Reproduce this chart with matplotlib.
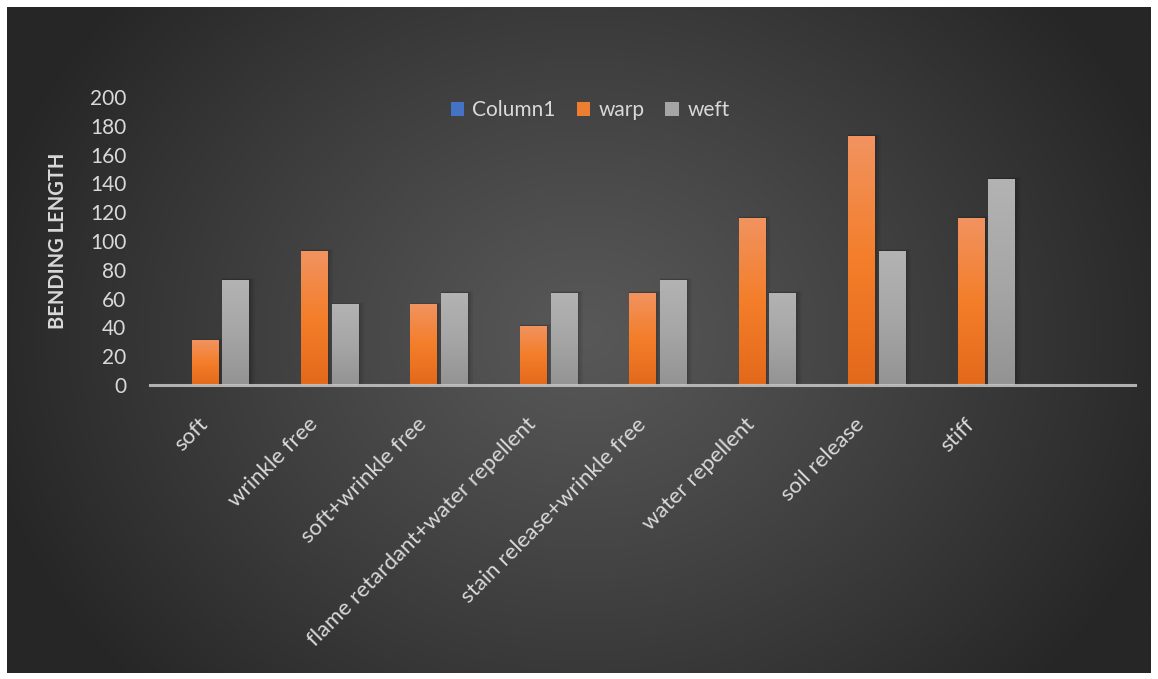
import numpy as np
import matplotlib
matplotlib.use("Agg")
import matplotlib.pyplot as plt
from matplotlib.patches import Patch
from matplotlib.colors import LinearSegmentedColormap

# ---- data -------------------------------------------------------------
categories = ["soft", "wrinkle free", "soft+wrinkle free",
              "flame retardant+water repellent", "stain release+wrinkle free",
              "water repellent", "soil release", "stiff", ""]
column1 = [0, 0, 0, 0, 0, 0, 0, 0, 0]
warp = [31, 93, 56, 41, 64, 116, 173, 116, 0]
weft = [73, 56, 64, 64, 73, 64, 93, 143, 0]
series_names = ["Column1", "warp", "weft"]
y_ticks = [0, 20, 40, 60, 80, 100, 120, 140, 160, 180, 200]

W, H = 1158, 679
plt.rcParams["font.family"] = ["Lato", "DejaVu Sans"]
text_col = "#d9d9d9"

fig = plt.figure(figsize=(W / 100, H / 100), dpi=100, facecolor="white")

# ---- radial gradient backdrop ----------------------------------------
bg_left, bg_right, bg_top, bg_bot = 7, 1151, 7, 673
bg = fig.add_axes([bg_left / W, 1 - bg_bot / H, (bg_right - bg_left) / W,
                   (bg_bot - bg_top) / H])
bg.set_axis_off()
nx, ny = 600, 350
xx, yy = np.meshgrid(np.linspace(bg_left, bg_right, nx),
                     np.linspace(bg_top, bg_bot, ny))
cx, cy = 585, 335
r = np.sqrt(((xx - cx) / 620) ** 2 + ((yy - cy) / 520) ** 2)
r = np.clip(r, 0, 1)
inner, outer = 0x58, 0x26
val = (inner + (outer - inner) * r ** 1.1) / 255.0
img = np.dstack([val, val, val])
bg.imshow(img, extent=[0, 1, 0, 1], aspect="auto", origin="upper")
bg.set_xlim(0, 1)
bg.set_ylim(0, 1)

# ---- plot area --------------------------------------------------------
x0, x1, ytop, ybase = 150, 1135, 97, 385
ax = fig.add_axes([x0 / W, 1 - ybase / H, (x1 - x0) / W, (ybase - ytop) / H])
ax.patch.set_alpha(0)
n = len(categories)
ax.set_xlim(-0.5, n - 0.5)
ax.set_ylim(0, 200)

bw = 0.24
offs = [-0.28, 0.0, 0.28]
orange_cmap = LinearSegmentedColormap.from_list(
    "org", ["#e3691a", "#f47e2a", "#f19360"])
gray_cmap = LinearSegmentedColormap.from_list(
    "gry", ["#939393", "#a6a6a6", "#b3b3b3"])
blue_cmap = LinearSegmentedColormap.from_list("blu", ["#3a66b5", "#4c7bd0"])
grad = np.linspace(0, 1, 256).reshape(-1, 1)

px = 1.0 / ((x1 - x0) / n)  # one pixel in x data units
py = 200.0 / (ybase - ytop)

for vals, off, cmap in zip([column1, warp, weft], offs,
                           [blue_cmap, orange_cmap, gray_cmap]):
    xs = np.arange(n) + off
    for xc, v in zip(xs, vals):
        if v <= 0:
            continue
        # soft drop shadow
        for k, a in [(6, 0.05), (4, 0.07), (2, 0.10)]:
            ax.bar(xc + k * px * 0.5, v + k * py * 0.3, width=bw + k * px,
                   bottom=0, color="black", alpha=a, linewidth=0, zorder=2)
        bar = ax.bar(xc, v, width=bw, color="none", linewidth=0, zorder=3)[0]
        im = ax.imshow(grad, cmap=cmap, origin="lower", aspect="auto",
                       extent=[xc - bw / 2, xc + bw / 2, 0, v], zorder=3)
        im.set_clip_path(bar)

ax.set_xlim(-0.5, n - 0.5)
ax.set_ylim(0, 200)

# baseline
ax.axhline(0, color="#c8c8c8", lw=2.2, alpha=0.85, zorder=4, clip_on=False)

for s in ax.spines.values():
    s.set_visible(False)

ax.set_yticks(y_ticks)
ax.set_yticklabels([str(t) for t in y_ticks])
ax.tick_params(axis="y", length=0, pad=17, labelsize=15, labelcolor=text_col)
ax.set_xticks(np.arange(n))
ax.set_xticklabels(categories, rotation=45, ha="right", va="center",
                   rotation_mode="anchor")
ax.tick_params(axis="x", length=0, pad=26, labelsize=16, labelcolor=text_col)

fig.text(58 / W, 1 - 241 / H, "BENDING LENGTH", rotation=90, ha="center",
         va="center", fontsize=14.5, fontweight="bold", color=text_col)

handles = [Patch(facecolor="#4472c4", edgecolor="none"),
           Patch(facecolor="#ed7d31", edgecolor="none"),
           Patch(facecolor="#a5a5a5", edgecolor="none")]
leg = fig.legend(handles, series_names, loc="center",
                 bbox_to_anchor=(590 / W, 1 - 110 / H), ncol=3, frameon=False,
                 handlelength=0.65, handleheight=0.65, handletextpad=0.4,
                 columnspacing=1.0, fontsize=15)
for t in leg.get_texts():
    t.set_color(text_col)

fig.savefig("out.png", dpi=100, facecolor="white")
